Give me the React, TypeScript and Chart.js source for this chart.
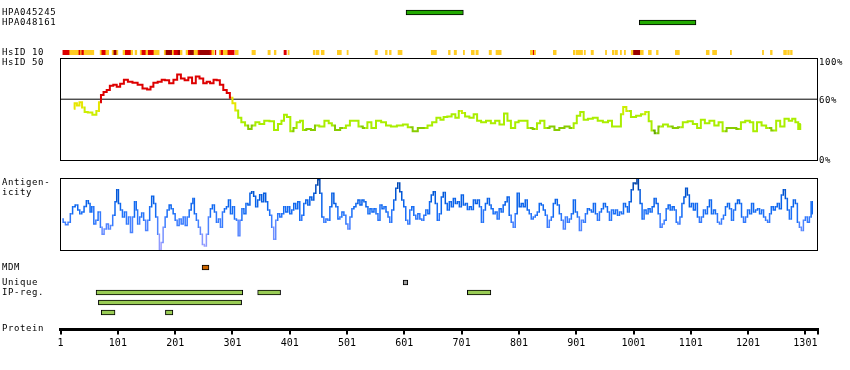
import React, { useEffect, useRef } from 'react';
import { Chart, registerables } from 'chart.js';

Chart.register(...registerables);

// ---------------- DATA ----------------
const PROTEIN_LENGTH = 1323;
const axisTicks = [1, 101, 201, 301, 401, 501, 601, 701, 801, 901, 1001, 1101, 1201, 1301];

// Antibody (HPA) regions
const hpaNames = ['HPA045245', 'HPA048161'];
const hpaStart = [604, 1011];
const hpaEnd = [704, 1110];

// HsID 10 strip: segments (residues) and identity level (1 = yellow, 2 = red, 3 = dark red)
const hsid10Start = [5, 17, 33, 36, 38, 42, 70, 73, 80, 91, 94, 99, 110, 114, 124, 131, 140, 143, 150, 154, 164, 182, 185, 196, 199, 206, 210, 220, 224, 227, 234, 241, 244, 262, 265, 271, 278, 281, 285, 293, 306, 335, 363, 374, 391, 398, 442, 447, 456, 484, 501, 550, 568, 575, 590, 648, 678, 688, 704, 718, 726, 749, 761, 821, 826, 828, 861, 896, 901, 915, 927, 952, 964, 969, 978, 985, 997, 1001, 1013, 1027, 1041, 1074, 1128, 1139, 1170, 1226, 1240, 1263, 1270, 1275];
const hsid10End = [17, 33, 36, 38, 42, 59, 73, 80, 85, 94, 99, 101, 114, 124, 127, 134, 143, 150, 154, 164, 173, 185, 196, 199, 206, 210, 213, 224, 227, 234, 241, 244, 262, 265, 269, 272, 281, 285, 293, 304, 311, 341, 367, 377, 395, 400, 445, 452, 461, 491, 503, 554, 571, 578, 597, 657, 681, 692, 706, 723, 730, 753, 770, 826, 828, 830, 866, 899, 912, 917, 931, 954, 967, 973, 980, 987, 1001, 1013, 1018, 1032, 1044, 1081, 1133, 1146, 1172, 1228, 1243, 1268, 1273, 1278];
const hsid10Level = [2, 1, 2, 1, 2, 1, 1, 2, 1, 1, 3, 1, 1, 2, 1, 1, 1, 2, 1, 2, 1, 1, 3, 1, 2, 3, 1, 1, 2, 3, 1, 2, 3, 2, 1, 2, 1, 2, 1, 2, 1, 1, 1, 1, 2, 1, 1, 1, 1, 1, 1, 1, 1, 1, 1, 1, 1, 1, 1, 1, 1, 1, 1, 1, 2, 1, 1, 1, 1, 1, 1, 1, 1, 1, 1, 1, 1, 3, 1, 1, 1, 1, 1, 1, 1, 1, 1, 1, 1, 1];

// HsID 50 identity (%)
const hsid50Pos = [24, 27, 32, 36, 41, 45, 52, 61, 66, 70, 73, 79, 84, 90, 96, 102, 108, 115, 122, 131, 140, 148, 156, 160, 166, 175, 180, 186, 195, 201, 208, 214, 221, 227, 234, 240, 247, 253, 259, 265, 271, 276, 282, 288, 294, 299, 303, 309, 313, 320, 326, 331, 338, 344, 352, 361, 370, 377, 384, 389, 393, 399, 405, 410, 416, 422, 426, 434, 442, 448, 457, 466, 472, 477, 483, 495, 503, 509, 518, 524, 533, 540, 547, 556, 565, 573, 582, 594, 603, 611, 620, 629, 637, 646, 653, 661, 667, 672, 680, 687, 693, 699, 704, 710, 719, 725, 731, 739, 748, 756, 763, 771, 779, 783, 791, 798, 803, 812, 820, 830, 835, 841, 850, 859, 867, 876, 885, 894, 899, 905, 911, 917, 926, 934, 943, 952, 961, 966, 977, 981, 985, 992, 1001, 1010, 1018, 1025, 1030, 1035, 1041, 1048, 1057, 1065, 1074, 1083, 1091, 1100, 1109, 1115, 1122, 1129, 1138, 1146, 1153, 1160, 1167, 1176, 1185, 1192, 1200, 1208, 1212, 1221, 1228, 1237, 1246, 1254, 1260, 1269, 1275, 1281, 1286, 1291, 1293];
const hsid50Val = [50.8, 56, 54, 57, 52, 47.5, 47, 45, 48.5, 57, 64, 67, 69, 73, 74, 72, 75, 79, 77, 76, 74, 70.5, 69.5, 72, 76, 77, 79, 78.5, 75.5, 79, 84, 80, 78.5, 81, 75.5, 82, 80, 75.5, 77, 75.5, 79, 78.5, 74, 69, 66, 61.5, 56, 49, 42, 37.7, 34.4, 31, 34.4, 37.7, 36, 39, 38.6, 30, 36, 39, 45, 42.6, 28.8, 32, 37.7, 39, 30, 31, 30, 34.4, 33.4, 39, 36.7, 34.4, 30, 32, 34.4, 39, 39, 33.4, 32, 37.7, 32, 39, 37.7, 34.4, 33.4, 34.4, 35.4, 32.8, 28.8, 32, 32, 34.4, 37.7, 42, 40, 42.6, 43.3, 45.3, 42, 48.5, 46.5, 43.3, 42, 45.3, 39, 37.7, 39, 36.7, 39, 35.4, 46, 39, 32, 37.7, 39, 39, 32, 31, 36.7, 39, 32, 33.4, 30, 32, 33.4, 32, 36.7, 44, 47.5, 40, 41, 42, 39, 37.7, 39, 33.4, 33.4, 45.3, 52.4, 48.5, 42.6, 44, 45.3, 47.5, 38.6, 29.5, 27, 33.4, 35.4, 33.4, 32, 32.8, 37.7, 38.6, 36, 32, 40, 36.7, 39, 34.4, 37.7, 28.8, 32, 32, 31, 37.7, 39, 37.7, 28.8, 37.7, 34.4, 32, 29.5, 39, 33.4, 41, 39, 41, 37.7, 31, 36];
const hsid50Threshold = 60;

// Antigenicity profile (relative score 0-100)
const antPos = [4, 7, 12, 16, 20, 24, 29, 33, 36, 40, 44, 48, 51, 54, 57, 61, 64, 69, 72, 75, 79, 83, 86, 90, 94, 98, 100, 104, 107, 111, 114, 118, 121, 125, 128, 132, 134, 137, 141, 144, 148, 151, 155, 158, 162, 165, 169, 172, 175, 178, 182, 185, 189, 192, 196, 199, 203, 206, 210, 213, 217, 220, 224, 227, 231, 233, 236, 240, 243, 247, 250, 254, 257, 261, 264, 268, 271, 275, 278, 282, 285, 289, 292, 296, 299, 303, 306, 310, 312, 316, 319, 323, 326, 330, 333, 336, 340, 343, 347, 350, 354, 357, 361, 364, 368, 371, 375, 378, 382, 385, 389, 392, 396, 399, 403, 406, 410, 413, 417, 420, 424, 427, 431, 434, 438, 441, 445, 448, 452, 455, 459, 462, 466, 469, 473, 476, 480, 483, 487, 490, 494, 497, 501, 504, 508, 511, 515, 518, 522, 525, 529, 532, 536, 539, 543, 546, 550, 553, 557, 560, 564, 567, 571, 574, 577, 581, 584, 588, 591, 595, 598, 602, 605, 609, 612, 616, 619, 623, 626, 630, 633, 637, 640, 644, 646, 650, 653, 657, 660, 664, 667, 671, 674, 678, 681, 685, 688, 692, 695, 699, 702, 706, 709, 713, 716, 720, 723, 727, 730, 734, 737, 741, 744, 748, 751, 754, 758, 761, 765, 768, 772, 775, 779, 782, 786, 789, 793, 796, 800, 803, 807, 810, 814, 817, 821, 824, 828, 831, 835, 838, 842, 845, 849, 852, 856, 859, 863, 866, 870, 873, 877, 880, 884, 887, 891, 894, 898, 901, 905, 908, 912, 915, 919, 922, 926, 929, 933, 936, 940, 943, 947, 950, 954, 957, 961, 964, 968, 971, 975, 978, 982, 985, 989, 992, 995, 999, 1002, 1006, 1008, 1011, 1014, 1018, 1021, 1025, 1028, 1032, 1035, 1039, 1042, 1046, 1049, 1053, 1056, 1060, 1063, 1067, 1070, 1074, 1077, 1080, 1084, 1087, 1091, 1093, 1097, 1100, 1104, 1107, 1111, 1114, 1118, 1121, 1125, 1128, 1132, 1135, 1139, 1142, 1146, 1149, 1153, 1156, 1160, 1163, 1167, 1170, 1174, 1177, 1181, 1184, 1188, 1191, 1195, 1198, 1202, 1205, 1209, 1212, 1216, 1219, 1223, 1226, 1230, 1233, 1237, 1240, 1243, 1247, 1250, 1254, 1257, 1261, 1264, 1268, 1271, 1275, 1278, 1282, 1285, 1289, 1292, 1296, 1299, 1303, 1306, 1310, 1312, 1314];
const antVal = [44, 39.5, 36, 39.5, 51, 60.5, 63, 56, 51, 53.5, 61, 69, 65, 53.5, 60.5, 37, 42, 53.5, 32.5, 23, 30, 37, 30, 35, 49, 67.5, 84, 65, 56, 46.5, 53.5, 37, 46.5, 25.5, 46.5, 67.5, 56, 37, 46.5, 52, 42, 28, 42, 60.5, 75, 65, 46.5, 23, 2.5, 11.5, 32.5, 46.5, 56, 63, 58, 51, 42, 35, 44, 37, 46.5, 35, 46.5, 56, 65, 72, 51, 42, 32.5, 23, 9, 7, 23, 46.5, 58, 63, 53.5, 39.5, 44, 32.5, 53.5, 58, 60.5, 70, 51, 60.5, 44, 42, 21, 42, 58, 51, 65, 63, 79, 81, 75, 60.5, 70, 77, 67.5, 79, 67.5, 56, 49, 32.5, 16, 42, 51, 46.5, 51, 60.5, 53.5, 60.5, 51, 56, 65, 58, 67.5, 42, 49, 65, 70, 63, 74, 70, 79, 90.5, 97.5, 79, 46.5, 39.5, 44, 42, 60.5, 79, 65, 60.5, 44, 46.5, 53.5, 49, 37, 30, 46.5, 58, 60.5, 65, 70, 63, 70, 67.5, 60.5, 51, 58, 53.5, 58, 51, 42, 63, 58, 60.5, 53.5, 46.5, 39.5, 56, 70, 86, 93, 81, 70, 60.5, 42, 37, 56, 60.5, 49, 44, 51, 44, 42, 49, 56, 51, 67.5, 76.7, 81, 65, 42, 51, 74, 80, 65, 56, 67.5, 60.5, 72, 65, 67.5, 60.5, 76.7, 63, 65, 56.7, 60.5, 56.7, 70, 65, 70, 60.5, 39.5, 56, 65, 72, 63, 58, 51, 53.5, 44, 58, 53.5, 63, 67.5, 74, 49, 39.5, 32.5, 51, 79, 60.5, 65, 60.5, 70, 56, 51, 44, 46.5, 49, 53.5, 65, 63, 56, 49, 32.5, 42, 46.5, 65, 70.7, 63, 51, 42, 30, 46.5, 39.5, 44, 51, 70, 53.5, 46.5, 28, 42, 39.5, 51, 58, 56, 53.5, 65, 51, 42, 53.5, 58, 65, 60.5, 53.5, 42, 56, 51, 56, 49, 53.5, 51, 65, 60.5, 53.5, 67.5, 84, 93, 92, 97.5, 84, 65, 44, 56, 51, 58, 53.5, 60.5, 72, 65, 51, 32.5, 37, 42, 58, 63, 56, 60.5, 56, 39.5, 37, 46.5, 65, 74, 86, 76.7, 60.5, 65, 56, 65, 46.5, 39.5, 46.5, 56, 51, 60.5, 70, 51, 56, 51, 39.5, 37, 44, 49, 60.5, 65, 58, 42, 56, 65, 70, 65, 46.5, 39.5, 46.5, 56, 51, 65, 53.5, 56, 58, 51, 56, 46.5, 42, 39.5, 51, 60.5, 56, 60.5, 65, 58, 76.7, 84, 72, 56, 44, 60.5, 70, 65, 39.5, 32.5, 28, 42, 46.5, 39.5, 46.5, 67.5, 51];

// Feature tracks
const mdmLabels = ['MDM'];
const mdmStart = [248];
const mdmEnd = [260];

const featureRows = ['Unique', 'IP-reg. a', 'IP-reg. b', 'IP-reg. c'];
const featureRow = [0, 1, 1, 1, 2, 3, 3];
const featureStart = [599, 63, 345, 711, 67, 72, 184];
const featureEnd = [607, 319, 385, 752, 317, 96, 197];
const featureKind = ['unique', 'ip', 'ip', 'ip', 'ip', 'ip', 'ip'];

// ---------------- STYLE ----------------
const FONT = 'DejaVu Sans Mono';
const X_PAD = { left: 60, right: 32 };
const levelColor: Record<number, string> = { 1: '#ffcc22', 2: '#dd0000', 3: '#990000' };
const featureColor: Record<string, string> = { unique: '#a0a0a0', ip: '#99cc55' };

function hsidColor(v: number): string {
  if (v >= 60) return '#dd0000';
  if (v >= 52) return '#e6e600';
  if (v >= 46) return '#ccee00';
  if (v >= 33) return '#aaee00';
  if (v >= 29.5) return '#88cc00';
  return '#66aa00';
}

const antStops: [number, number[]][] = [
  [0, [175, 165, 255]],
  [20, [125, 148, 255]],
  [40, [60, 125, 255]],
  [55, [20, 108, 245]],
  [70, [5, 95, 230]],
  [85, [0, 78, 195]],
  [100, [0, 55, 140]],
];
function antColor(v: number): string {
  for (let i = 1; i < antStops.length; i++) {
    const [v1, c1] = antStops[i];
    const [v0, c0] = antStops[i - 1];
    if (v <= v1) {
      const t = Math.max(0, (v - v0) / (v1 - v0));
      const c = c0.map((a, k) => Math.round(a + (c1[k] - a) * t));
      return `rgb(${c[0]},${c[1]},${c[2]})`;
    }
  }
  const c = antStops[antStops.length - 1][1];
  return `rgb(${c[0]},${c[1]},${c[2]})`;
}

const base: any = {
  responsive: false,
  animation: false,
  events: [],
  plugins: { legend: { display: false }, tooltip: { enabled: false } },
};

const xHidden = () => ({ type: 'linear', min: 0, max: PROTEIN_LENGTH, display: false });

const boxPlugin = {
  id: 'boxBorder',
  afterDraw(chart: any) {
    const { ctx, chartArea: a } = chart;
    ctx.save();
    ctx.strokeStyle = '#000';
    ctx.lineWidth = 1;
    ctx.strokeRect(
      Math.round(a.left) + 0.5,
      Math.round(a.top) + 0.5,
      Math.round(a.right - a.left) - 1,
      Math.round(a.bottom - a.top) - 1
    );
    ctx.restore();
  },
};

function barTrack(
  labels: string[],
  rows: number[],
  starts: number[],
  ends: number[],
  colors: string[],
  bordered: boolean,
  padTop: number,
  padBottom: number
) {
  return {
    type: 'bar',
    data: {
      labels,
      datasets: [
        {
          data: starts.map((s, i) => ({ x: [s, ends[i]], y: labels[rows[i]] })),
          backgroundColor: colors,
          borderColor: '#000',
          borderWidth: bordered ? 1 : 0,
          borderSkipped: false,
          barThickness: 5,
          grouped: false,
        },
      ],
    },
    options: {
      ...base,
      indexAxis: 'y',
      layout: { padding: { ...X_PAD, top: padTop, bottom: padBottom } },
      scales: { x: xHidden(), y: { type: 'category', display: false } },
    },
  };
}

const makeHpa = () =>
  barTrack(hpaNames, [0, 1], hpaStart, hpaEnd, hpaStart.map(() => '#22aa00'), true, 0.5, 0.5);

const makeHsid10 = () =>
  barTrack(
    ['HsID 10'],
    hsid10Start.map(() => 0),
    hsid10Start,
    hsid10End,
    hsid10Level.map((l) => levelColor[l]),
    false,
    2,
    2
  );

const makeHsid50 = () => ({
  type: 'line',
  data: {
    datasets: [
      {
        data: hsid50Pos.map((p, i) => ({ x: p, y: hsid50Val[i] })),
        borderColor: '#aaee00',
        borderWidth: 2,
        pointRadius: 0,
        stepped: 'middle',
        segment: {
          borderColor: (c: any) => hsidColor((c.p0.parsed.y + c.p1.parsed.y) / 2),
        },
      },
      {
        data: [
          { x: 0, y: hsid50Threshold },
          { x: PROTEIN_LENGTH, y: hsid50Threshold },
        ],
        borderColor: '#000',
        borderWidth: 1,
        pointRadius: 0,
      },
    ],
  },
  options: {
    ...base,
    layout: { padding: { ...X_PAD, top: 8, bottom: 9 } },
    scales: { x: xHidden(), y: { type: 'linear', min: 0, max: 100, display: false } },
  },
  plugins: [boxPlugin],
});

const makeAnt = () => ({
  type: 'line',
  data: {
    datasets: [
      {
        data: antPos.map((p, i) => ({ x: p, y: antVal[i] })),
        borderColor: '#1a6ef0',
        borderWidth: 1.5,
        pointRadius: 0,
        stepped: 'middle',
        segment: {
          borderColor: (c: any) => antColor((c.p0.parsed.y + c.p1.parsed.y) / 2),
        },
      },
    ],
  },
  options: {
    ...base,
    layout: { padding: { ...X_PAD, top: 8, bottom: 9 } },
    scales: { x: xHidden(), y: { type: 'linear', min: 0, max: 100, display: false } },
  },
  plugins: [boxPlugin],
});

const makeMdm = () =>
  barTrack(mdmLabels, [0], mdmStart, mdmEnd, ['#cc6600'], true, 0.5, 0.5);

const makeFeatures = () =>
  barTrack(
    featureRows,
    featureRow,
    featureStart,
    featureEnd,
    featureKind.map((k) => featureColor[k]),
    true,
    0.5,
    0.5
  );

const makeProtein = () => ({
  type: 'line',
  data: { datasets: [] },
  options: {
    ...base,
    layout: { padding: { ...X_PAD, top: 0, bottom: 20.5 } },
    scales: {
      x: {
        type: 'linear',
        min: 0,
        max: PROTEIN_LENGTH,
        position: 'bottom',
        afterBuildTicks: (s: any) => {
          s.ticks = [...axisTicks, PROTEIN_LENGTH].map((v) => ({ value: v }));
        },
        afterFit: (s: any) => {
          s.height = 20;
        },
        border: { display: true, width: 3, color: '#000' },
        grid: { drawOnChartArea: false, drawTicks: true, tickLength: 5, color: '#000', lineWidth: 2 },
        ticks: {
          autoSkip: false,
          maxRotation: 0,
          padding: 3,
          color: '#000',
          font: { family: FONT, size: 10 },
          callback: (v: any) => (axisTicks.includes(v) ? String(v) : ''),
        },
      },
      y: { display: false },
    },
  },
});

// ---------------- COMPONENTS ----------------
function ChartLayer({ top, height, make }: { top: number; height: number; make: () => any }) {
  const ref = useRef<HTMLCanvasElement>(null);
  useEffect(() => {
    const chart = new Chart(ref.current as HTMLCanvasElement, make());
    return () => chart.destroy();
  }, [make]);
  return (
    <canvas
      ref={ref}
      width={850}
      height={height}
      style={{ position: 'absolute', left: 0, top, width: 850, height, display: 'block' }}
    />
  );
}

function Label({ text, x, baseline }: { text: string; x: number; baseline: number }) {
  return (
    <div
      style={{
        position: 'absolute',
        left: x,
        top: baseline - 7.6,
        fontFamily: FONT,
        fontSize: '9px',
        lineHeight: '9px',
        letterSpacing: '0.6px',
        whiteSpace: 'pre',
        color: '#000',
      }}
    >
      {text}
    </div>
  );
}

const leftLabels: [string, number][] = [
  [hpaNames[0], 16],
  [hpaNames[1], 26],
  ['HsID 10', 55.3],
  ['HsID 50', 65.3],
  ['Antigen-', 186],
  ['icity', 196],
  ['MDM', 271],
  ['Unique', 286],
  ['IP-reg.', 295.3],
  ['Protein', 332],
];
const rightLabels: [string, number][] = [
  ['100%', 65.7],
  ['60%', 103.3],
  ['0%', 163.3],
];

export default function App() {
  return (
    <div
      style={{
        position: 'absolute',
        left: 0,
        top: 0,
        width: 850,
        height: 370,
        background: '#fff',
        overflow: 'hidden',
      }}
    >
      <ChartLayer top={7} height={21} make={makeHpa} />
      <ChartLayer top={48} height={9} make={makeHsid10} />
      <ChartLayer top={50} height={120} make={makeHsid50} />
      <ChartLayer top={170} height={90} make={makeAnt} />
      <ChartLayer top={262} height={11} make={makeMdm} />
      <ChartLayer top={277} height={41} make={makeFeatures} />
      <ChartLayer top={300} height={70} make={makeProtein} />
      {leftLabels.map(([t, b]) => (
        <Label key={t} text={t} x={2} baseline={b} />
      ))}
      {rightLabels.map(([t, b]) => (
        <Label key={t} text={t} x={819} baseline={b} />
      ))}
    </div>
  );
}
